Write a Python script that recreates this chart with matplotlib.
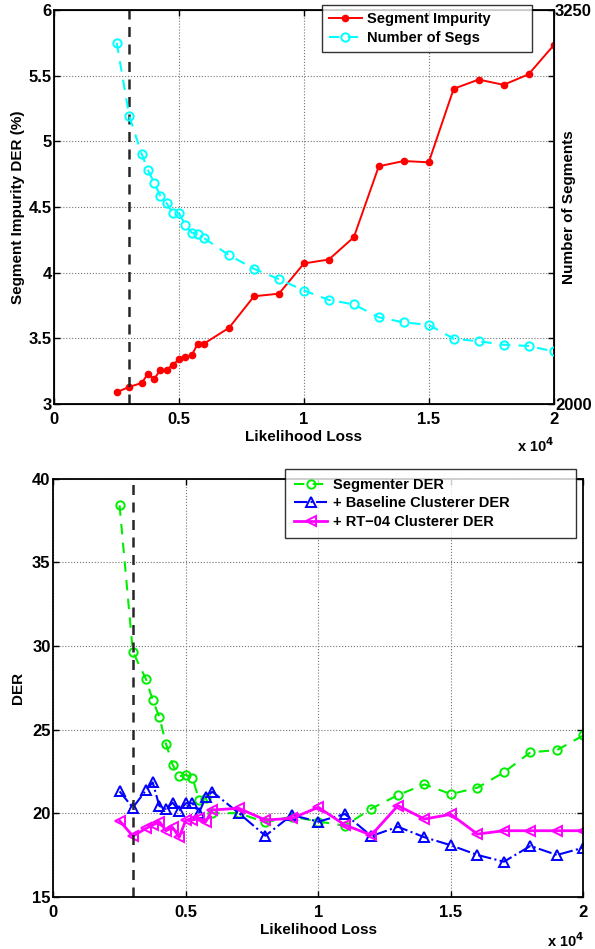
import numpy as np
import matplotlib
matplotlib.use("Agg")
import matplotlib.pyplot as plt

plt.rcParams['font.family'] = ['Liberation Sans', 'DejaVu Sans']
plt.rcParams['font.weight'] = 'bold'

# top panel data
loss_top = [2500, 3000, 3500, 3750, 4000, 4250, 4500, 4750, 5000, 5250, 5500, 5750, 6000,
            7000, 8000, 9000, 10000, 11000, 12000, 13000, 14000, 15000, 16000, 17000,
            18000, 19000, 20000]
impurity = [3.09, 3.13, 3.16, 3.23, 3.19, 3.26, 3.26, 3.30, 3.34, 3.36, 3.37, 3.46, 3.46,
            3.58, 3.82, 3.84, 4.07, 4.10, 4.27, 4.81, 4.85, 4.84, 5.40, 5.47,
            5.43, 5.51, 5.73]
num_segs = [3146, 2914, 2793, 2742, 2702, 2660, 2637, 2605, 2605, 2567, 2544, 2539, 2526,
            2472, 2429, 2396, 2360, 2330, 2316, 2275, 2259, 2251, 2207, 2199,
            2188, 2184, 2167]

# bottom panel data
loss_bot = loss_top
segmenter_der = [38.4, 29.65, 28.0, 26.75, 25.75, 24.15, 22.9, 22.2, 22.3, 22.1, 20.8, 20.9, 20.0,
                 20.0, 19.45, 19.8, 19.5, 19.25, 20.27, 21.08, 21.72, 21.14, 21.52, 22.44,
                 23.64, 23.77, 24.65]
baseline_der = [21.3, 20.33, 21.38, 21.84, 20.43, 20.25, 20.63, 20.13, 20.59, 20.59, 20.03, 20.95, 21.28,
                20.0, 18.65, 19.89, 19.49, 19.95, 18.63, 19.19, 18.56, 18.08, 17.5, 17.1,
                18.04, 17.5, 17.94]
rt04_der = [19.55, 18.63, 19.09, 19.29, 19.49, 18.95, 19.15, 18.56, 19.59, 19.59, 19.69, 19.49, 20.19,
            20.29, 19.59, 19.69, 20.35, 19.29, 18.69, 20.45, 19.65, 19.93, 18.75, 18.95,
            18.95, 18.95, 18.95]

chosen_loss = 3000
xticks = [0, 5000, 10000, 15000, 20000]
xticklabels = ['0', '0.5', '1', '1.5', '2']

fig = plt.figure(figsize=(5.95, 9.49), dpi=100)

TICK_FS = 12
LABEL_FS = 11
LEG_FS = 10.5


def style_axes(ax):
    ax.set_xlim(0, 20000)
    ax.set_xticks(xticks)
    ax.set_xticklabels(xticklabels)
    ax.grid(True, linestyle=':', color='0.45', linewidth=0.8)
    ax.tick_params(direction='in', length=4, width=1, labelsize=TICK_FS, top=True, pad=2)
    ax.tick_params(axis='x', pad=6)
    for s in ax.spines.values():
        s.set_linewidth(1.3)
    ax.set_xlabel('Likelihood Loss', fontsize=LABEL_FS, fontweight='bold', labelpad=2)


# ---- top panel
ax1 = fig.add_axes([0.0913, 0.5743, 0.839, 0.4152])
style_axes(ax1)
ax1.set_ylim(3, 6)
ax1.set_yticks([3, 3.5, 4, 4.5, 5, 5.5, 6])
ax1.set_yticklabels(['3', '3.5', '4', '4.5', '5', '5.5', '6'])
ax1.tick_params(axis='y', right=False)
l1, = ax1.plot(loss_top, impurity, '-o', color='red', lw=1.4, ms=4.5,
               mfc='red', mec='red', label='Segment Impurity')
ax1.axvline(chosen_loss, color='0.15', ls=(0, (4, 3)), lw=1.8)
ax1.set_ylabel('Segment Impurity DER (%)', fontsize=LABEL_FS, fontweight='bold')
ax1.yaxis.set_label_coords(-0.058, 0.5)

ax2 = ax1.twinx()
ax2.set_ylim(2000, 3250)
ax2.set_yticks(np.linspace(2000, 3250, 7))
ax2.set_yticklabels(['2000', '', '', '', '', '', '3250'])
ax2.tick_params(direction='in', length=4, width=1, labelsize=TICK_FS, pad=1)
l2, = ax2.plot(loss_top, num_segs, '--o', color='cyan', lw=1.5, ms=6,
               mfc='none', mec='cyan', mew=1.4, dashes=(5, 4), label='Number of Segs')
ax2.set_ylabel('Number of Segments', fontsize=LABEL_FS, fontweight='bold')
ax2.yaxis.set_label_coords(1.017, 0.5)
leg1 = ax2.legend(handles=[l1, l2], loc='upper left', mode='expand',
                  bbox_to_anchor=(0.5365, 0.8909, 0.4205, 0.1218),
                  fontsize=LEG_FS, handlelength=2.2, borderaxespad=0.0, frameon=True,
                  fancybox=False, edgecolor='black', labelspacing=0.3, borderpad=0.5,
                  handletextpad=0.4)
leg1.get_frame().set_linewidth(1.0)
fig.text(0.9, 0.530, r'x 10$^4$', fontsize=10.5, fontweight='bold', ha='center', va='center')

# ---- bottom panel
ax3 = fig.add_axes([0.0896, 0.055, 0.891, 0.4407])
style_axes(ax3)
ax3.tick_params(axis='y', right=True)
ax3.set_ylim(15, 40)
ax3.set_yticks([15, 20, 25, 30, 35, 40])
ax3.plot(loss_bot, segmenter_der, '--o', color='#00ee00', lw=1.5, ms=6,
         mfc='none', mec='#00ee00', mew=1.4, dashes=(5, 4), label='Segmenter DER')
ax3.plot(loss_bot, baseline_der, '-.^', color='blue', lw=1.5, ms=7,
         mfc='none', mec='blue', mew=1.4, label='+ Baseline Clusterer DER')
ax3.plot(loss_bot, rt04_der, '-<', color='magenta', lw=2.0, ms=7.5,
         mfc='none', mec='magenta', mew=1.4, label='+ RT\u221204 Clusterer DER')
ax3.axvline(chosen_loss, color='0.15', ls=(0, (4, 3)), lw=1.8)
ax3.set_ylabel('DER', fontsize=LABEL_FS, fontweight='bold')
ax3.yaxis.set_label_coords(-0.053, 0.5)
leg2 = ax3.legend(loc='upper left', mode='expand',
                  bbox_to_anchor=(0.437, 0.853, 0.549, 0.17), fontsize=LEG_FS,
                  handlelength=2.3, borderaxespad=0.0, frameon=True, fancybox=False,
                  edgecolor='black', labelspacing=0.32, borderpad=0.6, handletextpad=0.4)
leg2.get_frame().set_linewidth(1.0)
fig.text(0.95, 0.009, r'x 10$^4$', fontsize=10.5, fontweight='bold', ha='center', va='center')

fig.savefig('out.png', dpi=100)
